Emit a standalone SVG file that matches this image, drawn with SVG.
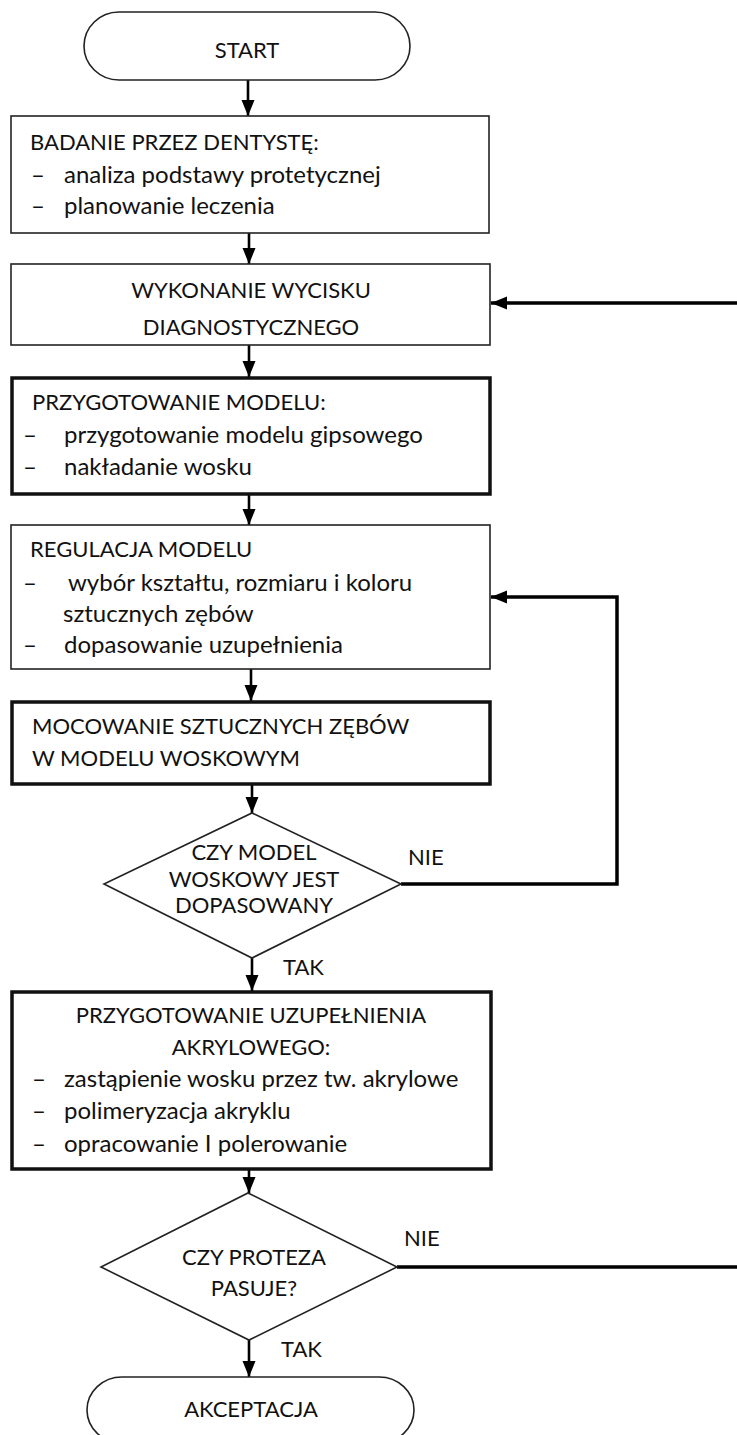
<svg xmlns="http://www.w3.org/2000/svg" width="737" height="1435" viewBox="0 0 737 1435">
<style>
text{font-family:Lato,"Liberation Sans",sans-serif;font-size:22px;fill:#111}
.l{font-size:24px}
.c{text-anchor:middle}
.thin{fill:#fff;stroke:#222;stroke-width:1.6}
.thick{fill:#fff;stroke:#111;stroke-width:3.5}
.conn{fill:none;stroke:#000;stroke-width:2.6}
.fb{fill:none;stroke:#000;stroke-width:3.5}
</style>
<defs>
<marker id="ah" markerUnits="userSpaceOnUse" markerWidth="17" markerHeight="14" refX="16" refY="6.5" orient="auto">
<path d="M0,0 L16,6.5 L0,13 Z" fill="#000"/>
</marker>
</defs>
<g id="connectors">
<path class="conn" d="M248,80 V116" marker-end="url(#ah)"/>
<path class="conn" d="M249,233 V264" marker-end="url(#ah)"/>
<path class="conn" d="M249,345 V377" marker-end="url(#ah)"/>
<path class="conn" d="M249,494 V525" marker-end="url(#ah)"/>
<path class="conn" d="M251,669 V701" marker-end="url(#ah)"/>
<path class="conn" d="M252,785 V813" marker-end="url(#ah)"/>
<path class="conn" d="M252,958 V991" marker-end="url(#ah)"/>
<path class="conn" d="M249,1170 V1193" marker-end="url(#ah)"/>
<path class="conn" d="M249,1340 V1377" marker-end="url(#ah)"/>
<path class="fb" d="M401,884 H617 V597 H491" marker-end="url(#ah)"/>
<path class="fb" d="M397,1267 H760 V303 H491" marker-end="url(#ah)"/>
<text x="408" y="865">NIE</text>
<text x="283" y="975">TAK</text>
<text x="404" y="1246">NIE</text>
<text x="281" y="1357">TAK</text>
</g>
<g id="start">
<path class="thin" d="M119,12 H375 A35,34 0 0 1 375,80 H119 A35,34 0 0 1 119,12 Z"/>
<text class="c" x="247" y="58">START</text>
</g>
<g id="badanie">
<rect class="thin" x="11" y="116" width="478" height="117"/>
<text x="30" y="150">BADANIE PRZEZ DENTYSTĘ:</text>
<text class="l" x="31" y="183">–</text><text class="l" x="64" y="183">analiza podstawy protetycznej</text>
<text class="l" x="31" y="214">–</text><text class="l" x="64" y="214">planowanie leczenia</text>
</g>
<g id="wycisk">
<rect class="thin" x="11" y="264" width="479" height="81"/>
<text class="c" x="251" y="298">WYKONANIE WYCISKU</text>
<text class="c" x="251" y="335">DIAGNOSTYCZNEGO</text>
</g>
<g id="model">
<rect class="thick" x="12" y="378" width="478" height="116"/>
<text x="32" y="410">PRZYGOTOWANIE MODELU:</text>
<text class="l" x="23" y="443">–</text><text class="l" x="64" y="443">przygotowanie modelu gipsowego</text>
<text class="l" x="23" y="475">–</text><text class="l" x="64" y="475">nakładanie wosku</text>
</g>
<g id="regulacja">
<rect class="thin" x="11" y="525" width="479" height="144"/>
<text x="30" y="557">REGULACJA MODELU</text>
<text class="l" x="23" y="591">–</text><text class="l" x="68" y="591">wybór kształtu, rozmiaru i koloru</text>
<text class="l" x="63" y="622">sztucznych zębów</text>
<text class="l" x="23" y="653">–</text><text class="l" x="64" y="653">dopasowanie uzupełnienia</text>
</g>
<g id="mocowanie">
<rect class="thick" x="12" y="702" width="478" height="82"/>
<text x="32" y="734">MOCOWANIE SZTUCZNYCH ZĘBÓW</text>
<text x="32" y="766">W MODELU WOSKOWYM</text>
</g>
<g id="decyzja1">
<path class="thin" d="M252,813 L401,884 L252,958 L104,884 Z"/>
<text class="c" x="254" y="860">CZY MODEL</text>
<text class="c" x="254" y="886.5">WOSKOWY JEST</text>
<text class="c" x="254" y="913">DOPASOWANY</text>
</g>
<g id="akryl">
<rect class="thick" x="12" y="992" width="479" height="177"/>
<text class="c" x="251" y="1023">PRZYGOTOWANIE UZUPEŁNIENIA</text>
<text class="c" x="251" y="1055">AKRYLOWEGO:</text>
<text class="l" x="32" y="1087">–</text><text class="l" x="64" y="1087">zastąpienie wosku przez tw. akrylowe</text>
<text class="l" x="32" y="1119">–</text><text class="l" x="64" y="1119">polimeryzacja akryklu</text>
<text class="l" x="32" y="1152">–</text><text class="l" x="64" y="1152">opracowanie I polerowanie</text>
</g>
<g id="decyzja2">
<path class="thin" d="M248,1193 L397,1267 L249,1340 L101,1267 Z"/>
<text class="c" x="254" y="1265">CZY PROTEZA</text>
<text class="c" x="254" y="1296">PASUJE?</text>
</g>
<g id="akceptacja">
<path class="thin" d="M122,1377 H379 A35,33 0 0 1 379,1443 H122 A35,33 0 0 1 122,1377 Z"/>
<text class="c" x="251" y="1417">AKCEPTACJA</text>
</g>
</svg>
